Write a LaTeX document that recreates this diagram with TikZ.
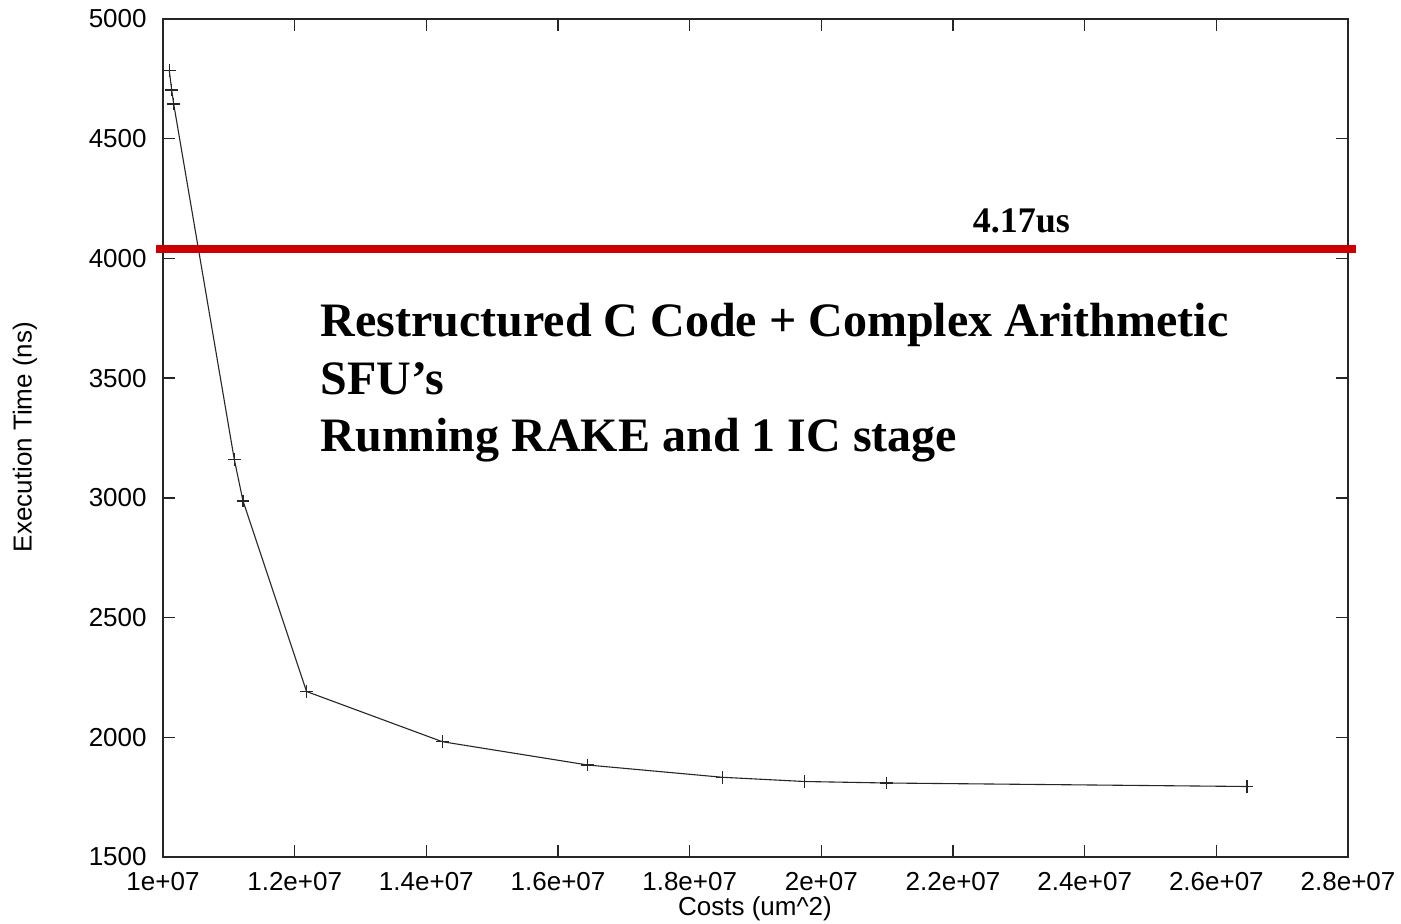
\documentclass[tikz,border=0pt]{standalone}
\usepackage{fontspec}
\setmainfont{Liberation Serif}
\setsansfont{Liberation Sans}
\usetikzlibrary{plotmarks}
\definecolor{limitred}{HTML}{CC0000}
\begin{document}
\begin{tikzpicture}[x=0.5pt,y=-0.5pt,
  ticklab/.style={font=\sffamily\fontsize{13}{15}\selectfont, inner sep=0pt},
  axlab/.style={font=\sffamily\fontsize{13}{15}\selectfont, inner sep=0pt},
  bigtxt/.style={font=\bfseries\fontsize{24}{28}\selectfont, inner sep=0pt, anchor=base west},
  frame/.style={line width=0.7pt, black!85},
  curve/.style={line width=0.55pt, black!85}]
\useasboundingbox (0,0) rectangle (1401,924);
\fill[white] (0,0) rectangle (1401,924);
% axes frame
\draw[frame] (163,19) rectangle (1348,857);
% x ticks
\foreach \k/\lab in {0/1e+07,1/1.2e+07,2/1.4e+07,3/1.6e+07,4/1.8e+07,5/2e+07,6/2.2e+07,7/2.4e+07,8/2.6e+07,9/2.8e+07}{
  \pgfmathsetmacro{\xx}{163+\k*131.667}
  \draw[frame] (\xx,857) -- (\xx,845);
  \draw[frame] (\xx,19) -- (\xx,31);
  \node[ticklab] (xt\k) at (\xx,882) {\lab};
}
% y ticks
\foreach \k/\lab in {0/1500,1/2000,2/2500,3/3000,4/3500,5/4000,6/4500,7/5000}{
  \pgfmathsetmacro{\yy}{857-\k*119.714}
  \draw[frame] (163,\yy) -- (175,\yy);
  \draw[frame] (1348,\yy) -- (1336,\yy);
  \node[ticklab, anchor=east] (yt\k) at (147,\yy) {\lab};
}
% axis labels
\node[axlab] (xlab) at (755,909) {Costs (um\^{}2)};
\node[axlab, rotate=90] (ylab) at (25,437) {Execution Time (ns)};
% data curve
\draw[curve, mark=+, mark size=3.2pt, mark options={line width=0.55pt}]
  plot coordinates {(169.3,70.7) (171.7,90) (173.7,104) (234.3,459.5) (243,501) (306.5,691.5)
  (442.3,741.7) (587.7,765) (722.7,777.3) (804.7,781.5) (886.5,783) (1247,786.5)};
% limit line
\draw[limitred, line width=3.6pt] (156,249) -- (1356,249);
\node[font=\bfseries\fontsize{18}{20}\selectfont, inner sep=0pt, anchor=base west] (lim) at (972.5,232.7) {4.17us};
% annotation
\node[bigtxt] (l1) at (320.5,336.7) {Restructured C Code + Complex Arithmetic};
\node[bigtxt] (l2) at (320.5,394.2) {SFU’s};
\node[bigtxt] (l3) at (320.5,451.7) {Running RAKE and 1 IC stage};
\end{tikzpicture}
\end{document}
